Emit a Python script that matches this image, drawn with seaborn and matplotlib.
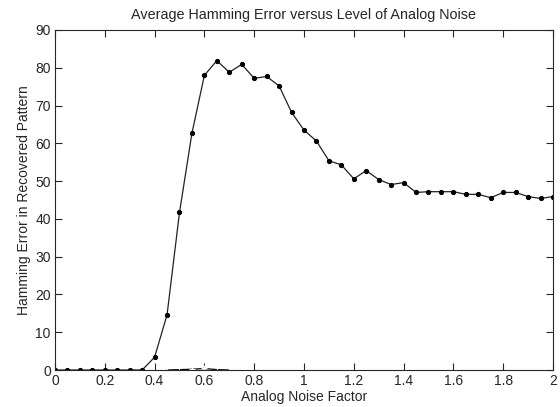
"""
Average Hamming error against analog noise factor.
"""

import seaborn as sns
import matplotlib
matplotlib.use("Agg")
import matplotlib.pyplot as plt
import pandas as pd

# noise factors 0 .. 2 in steps of 0.05
noise_factor = [round(i * 0.05, 2) for i in range(41)]
hamming_error = [0, 0, 0, 0, 0, 0, 0, 0, 3.4, 14.6,
                 41.7, 62.7, 78.0, 81.9, 78.8, 80.9, 77.2, 77.7, 75.2, 68.2,
                 63.5, 60.6, 55.4, 54.3, 50.6, 52.8, 50.4, 49.1, 49.6, 47.0,
                 47.2, 47.2, 47.2, 46.5, 46.5, 45.6, 47.0, 47.0, 45.9, 45.4,
                 45.9]

# the faint second trace lying along the x axis
aux_factor = [0.45, 0.5, 0.55, 0.6, 0.65, 0.7]
aux_error = [0.0, 0.1, 0.2, 0.4, 0.1, 0.0]

x_ticks = [0, 0.2, 0.4, 0.6, 0.8, 1, 1.2, 1.4, 1.6, 1.8, 2]
x_tick_labels = ["0", "0.2", "0.4", "0.6", "0.8", "1", "1.2", "1.4", "1.6", "1.8", "2"]
y_ticks = [0, 10, 20, 30, 40, 50, 60, 70, 80, 90]

sns.set_style("ticks")
plt.rcParams['font.family'] = ['Liberation Sans', 'DejaVu Sans']

df_main = pd.DataFrame({'factor': noise_factor, 'error': hamming_error})
df_aux = pd.DataFrame({'factor': aux_factor, 'error': aux_error})

fig = plt.figure(figsize=(5.6, 4.07), dpi=100)
ax1 = fig.add_axes([0.0982, 0.0909, 0.8893, 0.8354])

sns.lineplot(data=df_main, x='factor', y='error', ax=ax1, color='#222222',
             linewidth=0.9, marker='o', markersize=3.0, markerfacecolor='black',
             markeredgecolor='black', errorbar=None)
sns.lineplot(data=df_aux, x='factor', y='error', ax=ax1, color='black',
             linewidth=0.9, marker='+', markersize=5, markeredgewidth=0.8,
             errorbar=None)

ax1.set_xlim(0, 2)
ax1.set_ylim(0, 90)
ax1.set_xticks(x_ticks)
ax1.set_xticklabels(x_tick_labels)
ax1.set_yticks(y_ticks)
ax1.tick_params(direction='in', top=True, right=True, length=5, width=0.8,
                labelsize=10, pad=3)
for spine in ax1.spines.values():
    spine.set_visible(True)
    spine.set_linewidth(0.8)
ax1.set_xlabel("Analog Noise Factor", fontsize=10, labelpad=1)
ax1.set_ylabel("Hamming Error in Recovered Pattern", fontsize=10, labelpad=3)
ax1.set_title("Average Hamming Error versus Level of Analog Noise", fontsize=10.4, pad=8)

fig.savefig("out.png", dpi=100)
